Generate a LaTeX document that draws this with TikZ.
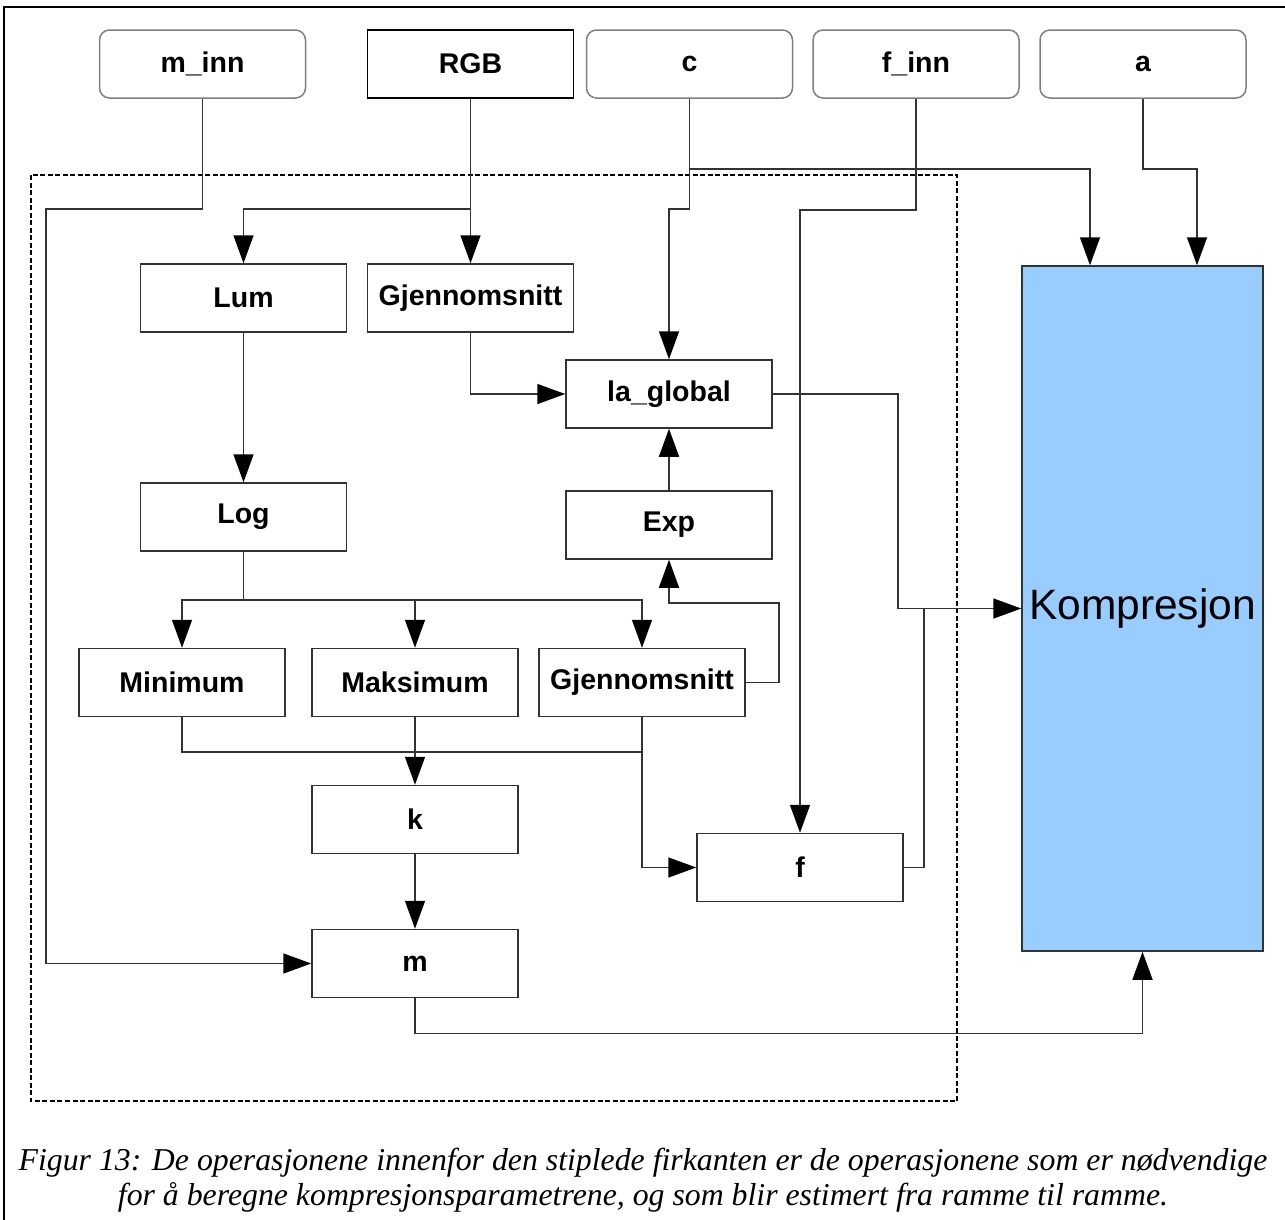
\documentclass[tikz,border=0pt]{standalone}
\usepackage{fontspec}
\setmainfont{Liberation Serif}
\setsansfont{Liberation Sans}
\usetikzlibrary{arrows.meta,calc}
\definecolor{komp}{HTML}{99CCFF}
\definecolor{edge}{HTML}{333333}
\definecolor{soft}{HTML}{808080}
\begin{document}
\begin{tikzpicture}[x=1pt,y=-1pt,
  opbox/.style={draw=edge,line width=1.5pt,fill=white,rectangle,
    minimum width=206pt,minimum height=68pt,inner sep=0pt,
    font=\sffamily\bfseries\fontsize{28.5}{34}\selectfont},
  inbox/.style={opbox,draw=soft,rounded corners=10pt},
  wire/.style={line width=1.5pt,draw=edge},
  arr/.style={wire,-{Triangle[length=28pt,width=20pt,color=black]}}]
\useasboundingbox (0,0) rectangle (1285,1219);
% outer frame
\draw[line width=2pt] (4,1225) -- (4,7) -- (1290,7);
% region of per-frame estimation
\draw[line width=1.2pt,dash pattern=on 5pt off 2.5pt] (31,175) rectangle (957,1101);

% inputs
\node[inbox] (minn) at (202.5,64) {m\_inn};
\node[opbox,draw=black] (rgb)  at (470.5,64) {RGB};
\node[inbox] (c)    at (689.5,64) {c};
\node[inbox] (finn) at (916,64) {f\_inn};
\node[inbox] (a)    at (1143,64) {a};

% operations
\node[opbox] (lum)  at (243.5,298) {Lum};
\node[opbox] (gja)  at (470.5,298) {Gjennomsnitt};
\node[opbox] (la)   at (669,394) {la\_global};
\node[opbox] (log)  at (243.5,517) {Log};
\node[opbox] (exp)  at (669,525) {Exp};
\node[opbox] (min)  at (182,682.5) {Minimum};
\node[opbox] (maks) at (415,682.5) {Maksimum};
\node[opbox] (gjb)  at (642,682.5) {Gjennomsnitt};
\node[opbox] (k)    at (415,819.5) {k};
\node[opbox] (f)    at (800,867.5) {f};
\node[opbox] (m)    at (415,963.5) {m};
\node[draw=edge,line width=1.5pt,fill=komp,minimum width=241pt,minimum height=685pt,
  inner sep=0pt,font=\sffamily\fontsize{42.5}{50}\selectfont] (kmp) at (1142.5,608.5) {Kompresjon};

% connectors
\draw[arr] (minn.south) |- (46,209) |- (m.west);
\draw[arr] (rgb.south) -- (gja.north);
\draw[arr] (470.5,209) -| (lum.north);
\draw[arr] (c.south) -- ++(0,110) -| (la.north);
\draw[arr] ($(c.south)+(0,70)$) -| ($(kmp.north)+(-52.5,0)$);
\draw[arr] (a.south) -- ++(0,70) -| ($(kmp.north)+(54.5,0)$);
\draw[arr] (finn.south) -- ++(0,111) -| (f.north);
\draw[arr] (gja.south) |- (la.west);
\draw[arr] (la.east) -| (898,608.5) -- (kmp.west);
\draw[wire] (f.east) -| (924,608.5);
\draw[arr] (exp.north) -- (la.south);
\draw[arr] (lum.south) -- (log.north);
\draw[wire] (log.south) -- (243.5,600);
\draw[arr] (243.5,600) -| (min.north);
\draw[arr] (243.5,600) -| (maks.north);
\draw[arr] (243.5,600) -| (gjb.north);
\draw[arr] (gjb.east) -| (779,603) -| (exp.south);
\draw[wire] (min.south) |- (642,752);
\draw[arr] (maks.south) -- (k.north);
\draw[arr] (gjb.south) |- (f.west);
\draw[arr] (k.south) -- (m.north);
\draw[arr] (m.south) -- ++(0,35) -| (kmp.south);

% caption
\node[align=center,font=\itshape\fontsize{31.8}{35}\selectfont] (cap) at (643,1180)
  {Figur 13: De operasjonene innenfor den stiplede firkanten er de operasjonene som er nødvendige\\
   for å beregne kompresjonsparametrene, og som blir estimert fra ramme til ramme.};
\end{tikzpicture}
\end{document}
